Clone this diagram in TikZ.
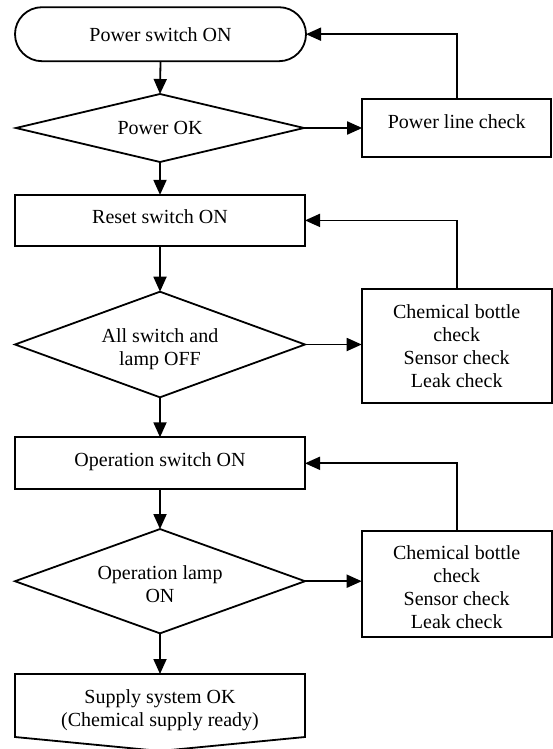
\documentclass[tikz,border=0pt]{standalone}
\usepackage{fontspec}
\setmainfont{Liberation Serif}
\usetikzlibrary{shapes.geometric,arrows.meta,calc}

\tikzset{
  base/.style={draw=black, line width=1.8pt, inner sep=0pt, outer sep=0pt,
    font=\fontsize{20}{23}\selectfont, align=center},
  termbox/.style={base, rectangle, rounded corners=27pt},
  procbox/.style={base, rectangle},
  decbox/.style={base, diamond},
  arr/.style={line width=1.8pt, -{Triangle[length=15pt,width=13pt]}},
}

\begin{document}
\begin{tikzpicture}[x=1pt, y=-1pt]
\useasboundingbox (0,0) rectangle (552,749);

% main column
\node[termbox, minimum width=291pt, minimum height=54pt, text height=14pt, text depth=0pt]
  (start) at (160.5,34.2) {Power switch ON};
\node[decbox, minimum width=288pt, minimum height=68pt, aspect=4.2]
  (d1) at (160,128) {Power OK};
\node[procbox, minimum width=290pt, minimum height=51pt, text height=14pt, text depth=8pt]
  (reset) at (160,220.4) {Reset switch ON};
\node[decbox, minimum width=290pt, minimum height=105.6pt, aspect=2.75,
      text height=42.4pt, text depth=0pt]
  (d2) at (160,344.5) {All switch and\\lamp OFF};
\node[procbox, minimum width=290pt, minimum height=52pt, text height=14pt, text depth=7pt]
  (op) at (160,463.3) {Operation switch ON};
\node[decbox, minimum width=290pt, minimum height=104.3pt, aspect=2.78,
      text height=42.7pt, text depth=0pt]
  (d3) at (160,581.2) {Operation lamp\\ON};
\node[procbox, draw=none, minimum width=290pt, minimum height=63pt,
      text height=42.3pt, text depth=0pt]
  (ready) at (160,705.5) {Supply system OK\\(Chemical supply ready)};
\draw[line width=1.8pt] (ready.north west) -- (ready.north east) -- (ready.south east)
  -- ([yshift=-14pt]ready.south) -- (ready.south west) -- cycle;

% check boxes on the right
\node[procbox, minimum width=189pt, minimum height=58pt, text height=14pt, text depth=13pt]
  (pwr) at (456.7,128) {Power line check};
\node[procbox, minimum width=190pt, minimum height=114pt]
  (chk1) at (456.7,346.3) {Chemical bottle\\check\\Sensor check\\Leak check};
\node[procbox, minimum width=190pt, minimum height=106pt,
      text height=88.7pt, text depth=0pt]
  (chk2) at (456.7,584) {Chemical bottle\\check\\Sensor check\\Leak check};

% forward flow
\draw[arr] (start.south) -- (d1.north);
\draw[arr] (d1.south) -- (reset.north);
\draw[arr] (reset.south) -- (d2.north);
\draw[arr] (d2.south) -- (op.north);
\draw[arr] (op.south) -- (d3.north);
\draw[arr] (d3.south) -- (ready.north);

% branches to the checks
\draw[arr] (d1.east) -- (d1.east -| pwr.west);
\draw[arr] (d2.east) -- (d2.east -| chk1.west);
\draw[arr] (d3.east) -- (d3.east -| chk2.west);

% loops back after a check
\draw[arr] (pwr.north) |- (start.east);
\draw[arr] (chk1.north) |- (reset.east);
\draw[arr] (chk2.north) |- (op.east);
\end{tikzpicture}
\end{document}
